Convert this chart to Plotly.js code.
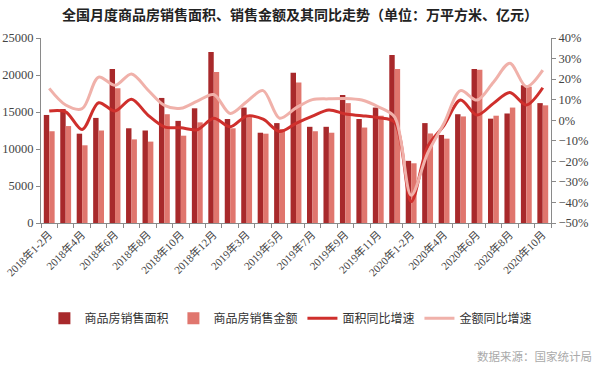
<!DOCTYPE html>
<html>
<head>
<meta charset="utf-8">
<script src="https://cdn.plot.ly/plotly-3.0.1.min.js"></script>
<style>html,body{margin:0;padding:0;background:#fff;}#chart{width:600px;height:367px;}</style>
</head>
<body>
<div id="chart"></div>
<script>
const categories = ['2018年1-2月','2018年3月','2018年4月','2018年5月','2018年6月','2018年7月','2018年8月','2018年9月','2018年10月','2018年11月','2018年12月',
  '2019年1-2月','2019年3月','2019年4月','2019年5月','2019年6月','2019年7月','2019年8月','2019年9月','2019年10月','2019年11月','2019年12月',
  '2020年1-2月','2020年3月','2020年4月','2020年5月','2020年6月','2020年7月','2020年8月','2020年9月','2020年10月'];
const salesArea = [14600,15400,12070,14200,20800,12800,12500,16900,13800,15500,23100,
  14050,15600,12200,13500,20300,13000,13000,17300,14050,15600,22700,
  8400,13500,11900,14700,20800,14100,14800,18600,16200];
const salesAmount = [12400,13100,10500,12500,18200,11300,11000,14700,11800,13600,20400,
  12800,14300,12070,12700,19000,12400,12200,16200,12900,14500,20800,
  8070,12100,11400,14400,20700,14500,15600,18400,15900];
const areaYoY = [4.5,4.1,-4.5,8.5,4.5,10.2,2.5,-3.2,-3.7,-4.6,1.0,
  -3.2,2.0,0.5,-5.5,-1.5,2.0,5.0,3.0,2.2,1.2,-1.0,
  -39.6,-12.9,-2.5,9.8,2.5,8.2,13.5,7.4,15.8];
const amountYoY = [15.5,7.4,5.6,21.0,17.0,22.5,14.7,7.2,5.8,9.3,12.5,
  3.3,9.0,14.4,1.0,6.0,10.0,10.4,10.6,9.8,6.5,1.5,
  -36.5,-16.0,-1.5,14.4,9.8,18.5,27.7,16.3,24.4];
const legendNames = ['商品房销售面积','商品房销售金额','面积同比增速','金额同比增速'];

const idx = categories.map((c,i)=>i);
const tickIdx = idx.filter(i=>i%2===0);
const tickText = tickIdx.map(i=>categories[i]);
const boundaries = categories.map((c,i)=>i-0.5).concat([categories.length-0.5]);

const serif = "'Liberation Serif', 'Noto Sans CJK SC', serif";
const cjk = "'Noto Sans CJK SC', sans-serif";

const traces = [
  {type:'bar', x:idx, y:salesArea, name:legendNames[0], marker:{color:'#a8292b'}, yaxis:'y', hoverinfo:'skip'},
  {type:'bar', x:idx, y:salesAmount, name:legendNames[1], marker:{color:'#e0766e'}, yaxis:'y', hoverinfo:'skip'},
  {type:'scatter', mode:'lines', x:idx, y:areaYoY, name:legendNames[2], yaxis:'y2',
    line:{color:'#cf2f2c', width:3, shape:'spline', smoothing:0.9}},
  {type:'scatter', mode:'lines', x:idx, y:amountYoY, name:legendNames[3], yaxis:'y2',
    line:{color:'#f0b1aa', width:3, shape:'spline', smoothing:0.9}},
  {type:'scatter', mode:'markers', x:[], y:[], xaxis:'x2', yaxis:'y', showlegend:false, hoverinfo:'skip'}
];

const layout = {
  width:600, height:367,
  margin:{l:41, r:49, t:38, b:144},
  paper_bgcolor:'#fff', plot_bgcolor:'#fff',
  showlegend:true,
  barmode:'group', bargap:0.34, bargroupgap:0,
  title:{text:'全国月度商品房销售面积、销售金额及其同比走势（单位：万平方米、亿元）',
    x:0.5, xanchor:'center', y:0.958, yanchor:'middle',
    font:{family:cjk, size:14, color:'#222', weight:'bold'}},
  xaxis:{type:'linear', range:[-0.5,30.5], tickmode:'array', tickvals:tickIdx, ticktext:tickText,
    tickangle:-45, ticks:'', showline:true, linecolor:'#8a8a8a', linewidth:1,
    showgrid:false, zeroline:false, tickfont:{family:serif, size:11, color:'#444'}},
  xaxis2:{type:'linear', overlaying:'x', anchor:'y', side:'bottom', range:[-0.5,30.5],
    tickmode:'array', tickvals:boundaries, showticklabels:false, ticks:'outside', ticklen:4,
    tickcolor:'#8a8a8a', showline:false, showgrid:false, zeroline:false},
  yaxis:{range:[0,25000], dtick:5000, tick0:0, tickformat:'d', showline:true, linecolor:'#8a8a8a', linewidth:1,
    ticks:'outside', ticklen:4, tickcolor:'#8a8a8a', showgrid:false, zeroline:false,
    tickfont:{family:serif, size:12.5, color:'#444'}},
  yaxis2:{overlaying:'y', side:'right', range:[-50,40], dtick:10, tick0:0, ticksuffix:'%',
    showline:true, linecolor:'#8a8a8a', linewidth:1, ticks:'outside', ticklen:4, tickcolor:'#8a8a8a',
    showgrid:false, zeroline:false, tickfont:{family:serif, size:12.5, color:'#444'}},
  legend:{orientation:'h', x:0.49, xanchor:'center', y:-0.515, yanchor:'middle',
    font:{family:cjk, size:12, color:'#333'}, traceorder:'normal', itemwidth:30},
  annotations:[{text:'数据来源：国家统计局', xref:'paper', yref:'paper', x:1.085, y:-0.72,
    xanchor:'right', yanchor:'middle', showarrow:false, font:{family:cjk, size:11.5, color:'#aaaaaa'}}]
};

Plotly.newPlot('chart', traces, layout, {displayModeBar:false, staticPlot:true});
</script>
</body>
</html>
